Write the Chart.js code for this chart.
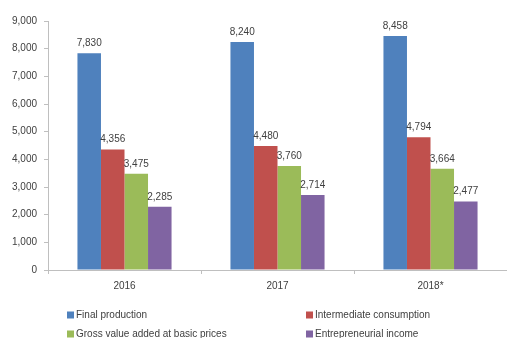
<!DOCTYPE html>
<html>
<head>
<meta charset="utf-8">
<script src="https://cdn.jsdelivr.net/npm/chart.js@4/dist/chart.umd.min.js"></script>
<style>
html,body{margin:0;padding:0;background:#fff;}
#wrap{position:relative;width:507px;height:338px;}
</style>
</head>
<body>
<div id="wrap"><canvas id="c" width="507" height="338"></canvas></div>
<script>
const categories = ["2016", "2017", "2018*"];
const seriesNames = ["Final production", "Intermediate consumption", "Gross value added at basic prices", "Entrepreneurial income"];
const finalProduction = [7830, 8240, 8458];
const intermediateConsumption = [4356, 4480, 4794];
const grossValueAdded = [3475, 3760, 3664];
const entrepreneurialIncome = [2285, 2714, 2477];
const yTicks = [0, 1000, 2000, 3000, 4000, 5000, 6000, 7000, 8000, 9000];
const colors = ["#4F81BD", "#C0504D", "#9BBB59", "#8064A2"];

const values = [finalProduction, intermediateConsumption, grossValueAdded, entrepreneurialIncome];
const FONT = "'Liberation Sans', Arial, sans-serif";
const TXT = "#404040";

const labelPlugin = {
  id: "valueLabels",
  afterDatasetsDraw(chart) {
    const ctx = chart.ctx;
    ctx.save();
    ctx.font = "10px " + FONT;
    ctx.fillStyle = TXT;
    ctx.textAlign = "center";
    ctx.textBaseline = "alphabetic";
    chart.data.datasets.forEach((ds, i) => {
      chart.getDatasetMeta(i).data.forEach((bar, j) => {
        ctx.fillText(ds.data[j].toLocaleString("en-US"), bar.x, bar.y - 7);
      });
    });
    ctx.restore();
  }
};

const legendPlugin = {
  id: "customLegend",
  afterDraw(chart) {
    const ctx = chart.ctx;
    ctx.save();
    ctx.font = "10px " + FONT;
    ctx.fillStyle = TXT;
    ctx.textBaseline = "middle";
    const cols = [67, 306];
    const rows = [315, 334];
    seriesNames.forEach((name, i) => {
      const x = cols[i % 2], y = rows[Math.floor(i / 2)];
      ctx.fillStyle = colors[i];
      ctx.fillRect(x, y - 3.5, 7, 7);
      ctx.fillStyle = TXT;
      ctx.fillText(name, x + 9, y + 0.5);
    });
    ctx.restore();
  }
};

new Chart(document.getElementById("c"), {
  type: "bar",
  data: {
    labels: categories,
    datasets: seriesNames.map((n, i) => ({
      label: n,
      data: values[i],
      backgroundColor: colors[i],
      borderWidth: 0,
      categoryPercentage: 0.615,
      barPercentage: 1.0
    }))
  },
  options: {
    responsive: false,
    animation: false,
    devicePixelRatio: 1,
    layout: { padding: { top: 21, left: 0, right: 0, bottom: 0 } },
    plugins: { legend: { display: false }, tooltip: { enabled: false } },
    scales: {
      x: {
        grid: { display: true, drawOnChartArea: false, offset: true, tickLength: 4, color: "#BFBFBF" },
        border: { color: "#BFBFBF", width: 1 },
        ticks: { font: { size: 10, family: FONT }, color: TXT, padding: 6, maxRotation: 0 },
        afterFit(scale) { scale.height = 68; }
      },
      y: {
        min: 0, max: 9000,
        afterBuildTicks(scale) { scale.ticks = yTicks.map(v => ({ value: v })); },
        grid: { display: true, drawOnChartArea: false, tickLength: 4, color: "#BFBFBF" },
        border: { color: "#BFBFBF", width: 1 },
        ticks: {
          font: { size: 10, family: FONT }, color: TXT, padding: 7,
          callback: v => v.toLocaleString("en-US")
        },
        afterFit(scale) { scale.width = 48; }
      }
    }
  },
  plugins: [labelPlugin, legendPlugin]
});
</script>
</body>
</html>
